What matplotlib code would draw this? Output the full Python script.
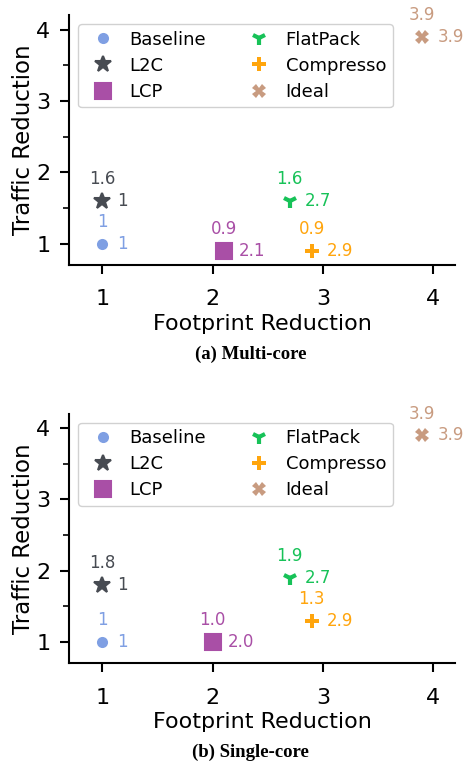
import matplotlib
matplotlib.use("Agg")
import matplotlib.pyplot as plt
from matplotlib.ticker import MultipleLocator

# 数据: 每个方案的 (footprint, traffic) 及标注文字
schemes = ["Baseline", "L2C", "LCP", "FlatPack", "Compresso", "Ideal"]
colors = ["#7f9fe3", "#474b52", "#a94fa6", "#17c258", "#ffa50d", "#c89b80"]
markers = ["o", "*", "s", "1", "P", "X"]
sizes = [8, 12, 11, 10, 10, 10]

multi_footprint = [1.0, 1.0, 2.1, 2.7, 2.9, 3.9]
multi_traffic = [1.0, 1.6, 0.9, 1.6, 0.9, 3.9]
multi_fp_labels = ["1", "1", "2.1", "2.7", "2.9", "3.9"]
multi_tr_labels = ["1", "1.6", "0.9", "1.6", "0.9", "3.9"]

single_footprint = [1.0, 1.0, 2.0, 2.7, 2.9, 3.9]
single_traffic = [1.0, 1.8, 1.0, 1.9, 1.3, 3.9]
single_fp_labels = ["1", "1", "2.0", "2.7", "2.9", "3.9"]
single_tr_labels = ["1", "1.8", "1.0", "1.9", "1.3", "3.9"]

captions = ["(a) Multi-core", "(b) Single-core"]


def draw_panel(ax, fp, tr, fp_lab, tr_lab):
    for i, name in enumerate(schemes):
        if markers[i] == "1":
            mew = 3
        elif markers[i] in ("*", "s"):
            mew = 1.5
        else:
            mew = 0
        ax.plot(fp[i], tr[i], linestyle="none", marker=markers[i],
                color=colors[i], markersize=sizes[i], markeredgewidth=mew,
                markeredgecolor=colors[i], label=name, zorder=3,
                solid_joinstyle="round")
        ax.annotate(tr_lab[i], (fp[i], tr[i]), xytext=(0, 9),
                    textcoords="offset points", ha="center", va="bottom",
                    color=colors[i], fontsize=12)
        ax.annotate(fp_lab[i], (fp[i], tr[i]), xytext=(11, 0),
                    textcoords="offset points", ha="left", va="center",
                    color=colors[i], fontsize=12)

    ax.set_xlim(0.7, 4.2)
    ax.set_ylim(0.7, 4.2)
    ax.xaxis.set_major_locator(MultipleLocator(1))
    ax.yaxis.set_major_locator(MultipleLocator(1))
    ax.yaxis.set_minor_locator(MultipleLocator(0.5))
    ax.tick_params(axis="both", which="major", labelsize=16, length=6.5, width=1.5)
    ax.tick_params(axis="x", which="major", pad=11)
    ax.tick_params(axis="y", which="major", pad=7)
    ax.tick_params(axis="y", which="minor", length=4, width=1.2)
    ax.spines["top"].set_visible(False)
    ax.spines["right"].set_visible(False)
    ax.spines["left"].set_linewidth(1.5)
    ax.spines["bottom"].set_linewidth(1.5)
    ax.set_xlabel("Footprint Reduction", fontsize=16, labelpad=3)
    ax.set_ylabel("Traffic Reduction", fontsize=16.5, labelpad=1)
    ax.legend(loc="upper left", bbox_to_anchor=(0.0, 1.0), ncol=2,
              fontsize=13, handletextpad=0.5, columnspacing=1.9,
              labelspacing=0.45, borderpad=0.35, framealpha=0.9)


fig = plt.figure(figsize=(4.64, 7.66), dpi=100)
ax1 = fig.add_axes([0.149, 0.654, 0.832, 0.326])
ax2 = fig.add_axes([0.149, 0.134, 0.832, 0.326])

draw_panel(ax1, multi_footprint, multi_traffic, multi_fp_labels, multi_tr_labels)
draw_panel(ax2, single_footprint, single_traffic, single_fp_labels, single_tr_labels)

fig.text(0.54, 1 - 354 / 766, captions[0], ha="center", va="center",
         fontsize=13.5, fontweight="bold", family="Liberation Serif")
fig.text(0.54, 1 - 752 / 766, captions[1], ha="center", va="center",
         fontsize=13.5, fontweight="bold", family="Liberation Serif")

fig.savefig("out.png", dpi=100)
plt.close(fig)
